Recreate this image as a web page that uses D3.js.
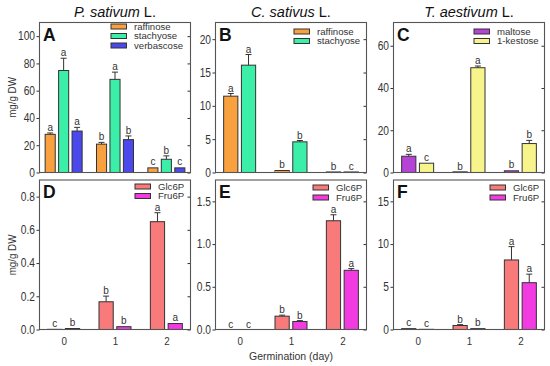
<!DOCTYPE html>
<html><head><meta charset="utf-8">
<script src="https://cdn.jsdelivr.net/npm/d3@7"></script>
<style>body{margin:0;background:#fff}svg{display:block;font-family:"Liberation Sans",Arial,sans-serif}</style>
</head><body><svg id="c" width="550" height="366"></svg>
<script>
const days = ["0", "1", "2"];

// Panel A: P. sativum (RFOs)
const raffinoseP = [28.0, 20.8, 3.4], raffinosePErr = [1.0, 1.3, 0.5], raffinosePSig = ["a", "b", "c"];
const stachyoseP = [74.8, 68.3, 9.7], stachyosePErr = [9.0, 5.3, 2.5], stachyosePSig = ["a", "a", "b"];
const verbascoseP = [30.4, 24.1, 3.4], verbascosePErr = [2.7, 2.7, 0.5], verbascosePSig = ["a", "b", "c"];
// Panel B: C. sativus
const raffinoseC = [11.45, 0.3, 0.08], raffinoseCErr = [0.4, 0.05, 0.02], raffinoseCSig = ["a", "b", "b"];
const stachyoseC = [16.1, 4.6, 0.08], stachyoseCErr = [1.6, 0.2, 0.02], stachyoseCSig = ["a", "b", "c"];
// Panel C: T. aestivum
const maltoseT = [7.7, 0.3, 0.8], maltoseTErr = [0.9, 0.1, 0.2], maltoseTSig = ["a", "b", "b"];
const kestoseT = [4.4, 49.6, 13.7], kestoseTErr = [0.3, 0.8, 1.5], kestoseTSig = ["c", "a", "b"];
// Panel D: P. sativum hexose phosphates
const glc6pP = [0.001, 0.167, 0.649], glc6pPErr = [0, 0.034, 0.054], glc6pPSig = ["c", "b", "a"];
const fru6pP = [0.006, 0.017, 0.036], fru6pPErr = [0.001, 0.002, 0.003], fru6pPSig = ["b", "b", "a"];
// Panel E: C. sativus
const glc6pC = [0.0, 0.156, 1.273], glc6pCErr = [0, 0.012, 0.07], glc6pCSig = ["c", "b", "a"];
const fru6pC = [0.0, 0.094, 0.693], fru6pCErr = [0, 0.01, 0.02], fru6pCSig = ["c", "b", "a"];
// Panel F: T. aestivum
const glc6pT = [0.1, 0.47, 8.14], glc6pTErr = [0.02, 0.1, 1.56], glc6pTSig = ["c", "b", "a"];
const fru6pT = [0.02, 0.1, 5.48], fru6pTErr = [0.01, 0.02, 1.0], fru6pTSig = ["c", "b", "a"];

const yTicksA = [0, 20, 40, 60, 80, 100];
const yTicksB = [0, 5, 10, 15, 20];
const yTicksC = [0, 20, 40, 60];
const yTicksD = [0.0, 0.2, 0.4, 0.6, 0.8];
const yTicksE = [0.0, 0.5, 1.0, 1.5];
const yTicksF = [0, 5, 10, 15];

const titles = [["P. sativum", " L."], ["C. sativus", " L."], ["T. aestivum", " L."]];
const yLabel = "mg/g DW";
const xLabel = "Germination (day)";

const colors = {raffinose: "#F9A13E", stachyose: "#3CEFA8", verbascose: "#4B48EC", maltose: "#B443D6",
  "1-kestose": "#F8F48C", Glc6P: "#F87A7A", Fru6P: "#F23BE0"};

const ser = (name, v, e, s) => ({name, v, e, s});
const panels = [
  {id: "A", col: 0, row: 0, max: 110, ticks: yTicksA, fmt: d3.format("d"),
   series: [ser("raffinose", raffinoseP, raffinosePErr, raffinosePSig), ser("stachyose", stachyoseP, stachyosePErr, stachyosePSig), ser("verbascose", verbascoseP, verbascosePErr, verbascosePSig)],
   leg: {x: 111, y: 26.5, dy: 9.5}},
  {id: "B", col: 1, row: 0, max: 22.5, ticks: yTicksB, fmt: d3.format("d"),
   series: [ser("raffinose", raffinoseC, raffinoseCErr, raffinoseCSig), ser("stachyose", stachyoseC, stachyoseCErr, stachyoseCSig)],
   leg: {x: 294, y: 31.5, dy: 9.5}},
  {id: "C", col: 2, row: 0, max: 71, ticks: yTicksC, fmt: d3.format("d"),
   series: [ser("maltose", maltoseT, maltoseTErr, maltoseTSig), ser("1-kestose", kestoseT, kestoseTErr, kestoseTSig)],
   leg: {x: 474, y: 31.5, dy: 9.5}},
  {id: "D", col: 0, row: 1, max: 0.9, ticks: yTicksD, fmt: d3.format(".1f"),
   series: [ser("Glc6P", glc6pP, glc6pPErr, glc6pPSig), ser("Fru6P", fru6pP, fru6pPErr, fru6pPSig)],
   leg: {x: 135, y: 186.5, dy: 9.5}},
  {id: "E", col: 1, row: 1, max: 1.75, ticks: yTicksE, fmt: d3.format(".1f"),
   series: [ser("Glc6P", glc6pC, glc6pCErr, glc6pCSig), ser("Fru6P", fru6pC, fru6pCErr, fru6pCSig)],
   leg: {x: 313, y: 187.5, dy: 10}},
  {id: "F", col: 2, row: 1, max: 17.5, ticks: yTicksF, fmt: d3.format("d"),
   series: [ser("Glc6P", glc6pT, glc6pTErr, glc6pTSig), ser("Fru6P", fru6pT, fru6pTErr, fru6pTSig)],
   leg: {x: 490, y: 187.5, dy: 10}}
];

const colX = [[39.5, 190.5], [215.5, 366.5], [393.5, 544.5]];
const rowY = [[22.5, 172.5], [180, 329.5]];
const svg = d3.select("#c");
const ink = "#333";

panels.forEach(p => {
  const [x0, x1] = colX[p.col], [y0, y1] = rowY[p.row];
  const g = svg.append("g");
  const x = d3.scalePoint().domain(days).range([x0, x1]).padding(0.47);
  const y = d3.scaleLinear().domain([0, p.max]).range([y1, y0]);
  const n = p.series.length;
  const w = n === 3 ? 37 : 32;
  const sub = d3.scaleBand().domain(p.series.map(s => s.name)).range([-w / 2, w / 2]).paddingInner(n === 3 ? 0.25 : 0.2);

  // left axis
  const ax = g.append("g").attr("transform", `translate(${x0},0)`)
    .call(d3.axisLeft(y).tickValues(p.ticks).tickFormat(p.fmt).tickSize(3).tickPadding(1.5));
  ax.select(".domain").remove();
  ax.selectAll("line").attr("stroke", ink);
  ax.selectAll("text").attr("font-size", 12).attr("fill", ink).attr("class", "narrow");
  // right inward ticks
  const ar = g.append("g").attr("transform", `translate(${x1},0)`)
    .call(d3.axisRight(y).tickValues(p.ticks).tickSize(-3).tickFormat(""));
  ar.select(".domain").remove();
  ar.selectAll("line").attr("stroke", ink);

  // bars
  p.series.forEach(s => {
    const gs = g.append("g");
    days.forEach((d, i) => {
      const cx = x(d) + sub(s.name) + sub.bandwidth() / 2;
      const top = y(s.v[i]);
      gs.append("rect").attr("x", cx - sub.bandwidth() / 2).attr("y", top)
        .attr("width", sub.bandwidth()).attr("height", Math.max(0, y(0) - top))
        .attr("fill", colors[s.name]).attr("stroke", ink).attr("stroke-width", 1);
      const et = y(s.v[i] + s.e[i]);
      if (s.e[i] > 0 && top - et > 0.8) {
        gs.append("line").attr("x1", cx).attr("x2", cx).attr("y1", top).attr("y2", et).attr("stroke", ink);
        gs.append("line").attr("x1", cx - 3).attr("x2", cx + 3).attr("y1", et).attr("y2", et).attr("stroke", ink);
      }
      gs.append("text").attr("x", cx).attr("y", Math.min(et, top) - 2).attr("text-anchor", "middle")
        .attr("font-size", 10).attr("fill", ink).text(s.s[i]);
    });
  });

  // frame
  g.append("rect").attr("x", x0).attr("y", y0).attr("width", x1 - x0).attr("height", y1 - y0)
    .attr("fill", "none").attr("stroke", "#555").attr("stroke-width", 1.1);

  // panel letter
  g.append("text").attr("x", x0 + 3.5).attr("y", y0 + 18).attr("font-size", 17.5).attr("font-weight", "bold")
    .attr("fill", "#111").text(p.id);

  // legend
  p.series.forEach((s, i) => {
    const ly = p.leg.y + i * p.leg.dy;
    g.append("rect").attr("x", p.leg.x).attr("y", ly - 2.5).attr("width", 15.5).attr("height", 5)
      .attr("fill", colors[s.name]).attr("stroke", ink).attr("stroke-width", 1);
    g.append("text").attr("x", p.leg.x + 23).attr("y", ly + 3.2).attr("font-size", 9.6).attr("fill", ink)
      .text(s.name);
  });

  // x tick labels on bottom row
  if (p.row === 1) {
    const axb = g.append("g").attr("transform", `translate(0,${y1})`)
      .call(d3.axisBottom(x).tickSize(0).tickPadding(7.5));
    axb.select(".domain").remove();
    axb.selectAll("text").attr("font-size", 11.5).attr("fill", ink).attr("class", "narrow");
  }
  // titles
  if (p.row === 0) {
    const t = g.append("text").attr("x", (x0 + x1) / 2).attr("y", 17).attr("text-anchor", "middle")
      .attr("font-size", 14.5).attr("fill", "#111");
    t.append("tspan").attr("font-style", "italic").text(titles[p.col][0]);
    t.append("tspan").text(titles[p.col][1]);
  }
});

// y labels
[97.5, 255].forEach(cy => {
  svg.append("text").attr("transform", `translate(16,${cy}) rotate(-90)`).attr("text-anchor", "middle")
    .attr("font-size", 11.5).attr("fill", ink).text(yLabel).attr("class", "narrow");
});
svg.append("text").attr("x", 291).attr("y", 359.5).attr("text-anchor", "middle").attr("font-size", 10.5)
  .attr("fill", ink).text(xLabel);

// condense narrow texts
svg.selectAll("text.narrow").each(function () {
  const L = this.getComputedTextLength();
  if (L > 0) d3.select(this).attr("textLength", L * 0.85).attr("lengthAdjust", "spacingAndGlyphs");
});
</script></body></html>
